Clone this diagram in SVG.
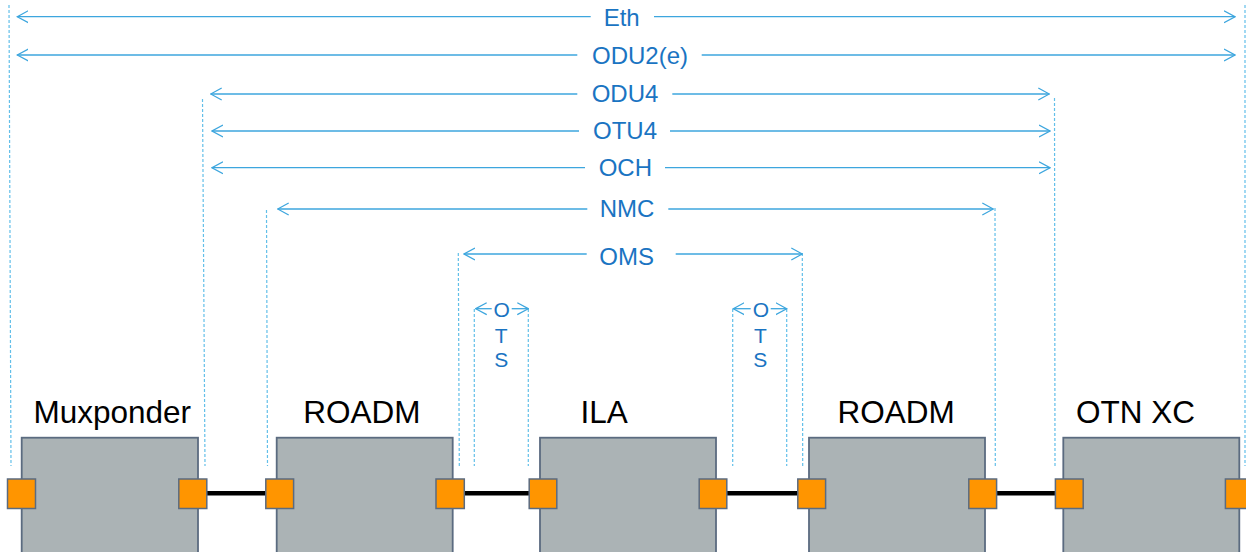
<svg xmlns="http://www.w3.org/2000/svg" width="1246" height="552" viewBox="0 0 1246 552">
<style>
.bg{fill:#ffffff}
.box{fill:#abb3b5;stroke:#5b6b80;stroke-width:1.8}
.port{fill:#ff9500;stroke:#5b6b80;stroke-width:1.5}
.link{stroke:#000000;stroke-width:4.5;fill:none}
.dim{stroke:#3da6de;stroke-width:1.3;fill:none}
.guide{stroke:#62bfe9;stroke-width:1.2;stroke-dasharray:3 2;fill:none}
.lbl{font-family:"Liberation Sans",Arial,sans-serif;font-size:24px;fill:#1a74c2;text-anchor:middle}
.ots{font-family:"Liberation Sans",Arial,sans-serif;font-size:21px;fill:#1a74c2;text-anchor:middle}
.name{font-family:"Liberation Sans",Arial,sans-serif;font-size:31.5px;fill:#000000}
</style>
<defs>
<marker id="arr" viewBox="0 0 12 14" refX="11" refY="7" markerWidth="12" markerHeight="14" markerUnits="userSpaceOnUse" orient="auto-start-reverse">
<path d="M0,1 L11,7 L0,13" fill="none" stroke="#3da6de" stroke-width="1.3"/>
</marker>
</defs>
<rect class="bg" x="0" y="0" width="1246" height="552"/>

<g id="guides">
<line class="guide" x1="9" y1="5" x2="11" y2="466"/>
<line class="guide" x1="1245" y1="5" x2="1245" y2="466"/>
<line class="guide" x1="202.5" y1="99" x2="205" y2="466"/>
<line class="guide" x1="1054.5" y1="98" x2="1055" y2="466"/>
<line class="guide" x1="266.5" y1="210" x2="267.5" y2="466"/>
<line class="guide" x1="995" y1="208" x2="995.3" y2="466"/>
<line class="guide" x1="458.3" y1="253" x2="459.3" y2="466"/>
<line class="guide" x1="802.3" y1="253" x2="802.7" y2="466"/>
<line class="guide" x1="474.3" y1="309" x2="474.3" y2="466"/>
<line class="guide" x1="528.3" y1="309" x2="528.3" y2="466"/>
<line class="guide" x1="732.7" y1="309" x2="732.7" y2="466"/>
<line class="guide" x1="786.7" y1="309" x2="786.7" y2="466"/>
</g>

<g id="layers">
<g id="layer-eth">
<line class="dim" x1="590.7" y1="16.7" x2="17.3" y2="16.7" marker-end="url(#arr)"/>
<line class="dim" x1="654" y1="16.7" x2="1235" y2="16.7" marker-end="url(#arr)"/>
<text class="lbl" x="621.7" y="25.5">Eth</text>
</g>
<g id="layer-odu2e">
<line class="dim" x1="577.3" y1="55" x2="17.3" y2="55" marker-end="url(#arr)"/>
<line class="dim" x1="701.7" y1="55" x2="1235" y2="55" marker-end="url(#arr)"/>
<text class="lbl" x="640" y="63.5">ODU2(e)</text>
</g>
<g id="layer-odu4">
<line class="dim" x1="577.3" y1="94" x2="210.7" y2="94" marker-end="url(#arr)"/>
<line class="dim" x1="672.3" y1="94" x2="1049.3" y2="94" marker-end="url(#arr)"/>
<text class="lbl" x="625" y="101.5">ODU4</text>
</g>
<g id="layer-otu4">
<line class="dim" x1="579" y1="131" x2="212" y2="131" marker-end="url(#arr)"/>
<line class="dim" x1="670" y1="131" x2="1050" y2="131" marker-end="url(#arr)"/>
<text class="lbl" x="625" y="139">OTU4</text>
</g>
<g id="layer-och">
<line class="dim" x1="585" y1="167.7" x2="212" y2="167.7" marker-end="url(#arr)"/>
<line class="dim" x1="665" y1="167.7" x2="1050" y2="167.7" marker-end="url(#arr)"/>
<text class="lbl" x="625.3" y="176">OCH</text>
</g>
<g id="layer-nmc">
<line class="dim" x1="587.3" y1="209" x2="277.7" y2="209" marker-end="url(#arr)"/>
<line class="dim" x1="668.3" y1="209" x2="993.3" y2="209" marker-end="url(#arr)"/>
<text class="lbl" x="627" y="217">NMC</text>
</g>
<g id="layer-oms">
<line class="dim" x1="586.7" y1="254" x2="464" y2="254" marker-end="url(#arr)"/>
<line class="dim" x1="675.7" y1="254" x2="802.3" y2="254" marker-end="url(#arr)"/>
<text class="lbl" x="626.7" y="265">OMS</text>
</g>
<g id="layer-ots1">
<line class="dim" x1="491.7" y1="308.7" x2="475.7" y2="308.7" marker-end="url(#arr)"/>
<line class="dim" x1="511.7" y1="308.7" x2="528.3" y2="308.7" marker-end="url(#arr)"/>
<text class="ots" x="501.7" y="316.5">O</text>
<text class="ots" x="501.2" y="342.5">T</text>
<text class="ots" x="501.2" y="367">S</text>
</g>
<g id="layer-ots2">
<line class="dim" x1="750.7" y1="308.7" x2="733.3" y2="308.7" marker-end="url(#arr)"/>
<line class="dim" x1="770.7" y1="308.7" x2="786.7" y2="308.7" marker-end="url(#arr)"/>
<text class="ots" x="760.8" y="316.5">O</text>
<text class="ots" x="760.3" y="342.5">T</text>
<text class="ots" x="760.3" y="367">S</text>
</g>
</g>

<g id="connectors">
<line class="link" x1="206" y1="493.3" x2="266" y2="493.3"/>
<line class="link" x1="464" y1="493.3" x2="529.5" y2="493.3"/>
<line class="link" x1="726" y1="493.3" x2="798" y2="493.3"/>
<line class="link" x1="996" y1="493.3" x2="1056" y2="493.3"/>
</g>

<g id="node-muxponder">
<rect class="box" x="21.7" y="437.7" width="176.3" height="130"/>
<rect class="port" x="7.5" y="479" width="28" height="29.5"/>
<rect class="port" x="178.8" y="479" width="28" height="29.5"/>
<text class="name" x="33.4" y="423.3">Muxponder</text>
</g>
<g id="node-roadm1">
<rect class="box" x="276.7" y="437.7" width="176" height="130"/>
<rect class="port" x="265.8" y="479" width="27.8" height="29.5"/>
<rect class="port" x="436" y="479" width="28.3" height="29.5"/>
<text class="name" x="303.3" y="423.3">ROADM</text>
</g>
<g id="node-ila">
<rect class="box" x="540" y="437.7" width="176" height="130"/>
<rect class="port" x="529.2" y="479" width="27.6" height="29.5"/>
<rect class="port" x="699.2" y="479" width="27.6" height="29.5"/>
<text class="name" x="580.4" y="423.3">ILA</text>
</g>
<g id="node-roadm2">
<rect class="box" x="809" y="437.7" width="176" height="130"/>
<rect class="port" x="797.8" y="479" width="27.8" height="29.5"/>
<rect class="port" x="968.8" y="479" width="27.8" height="29.5"/>
<text class="name" x="837.6" y="423.3">ROADM</text>
</g>
<g id="node-otnxc">
<rect class="box" x="1063.3" y="437.7" width="176" height="130"/>
<rect class="port" x="1055.4" y="479" width="27.8" height="29.5"/>
<rect class="port" x="1225.4" y="479" width="27.8" height="29.5"/>
<text class="name" x="1076" y="423.3">OTN XC</text>
</g>
</svg>
